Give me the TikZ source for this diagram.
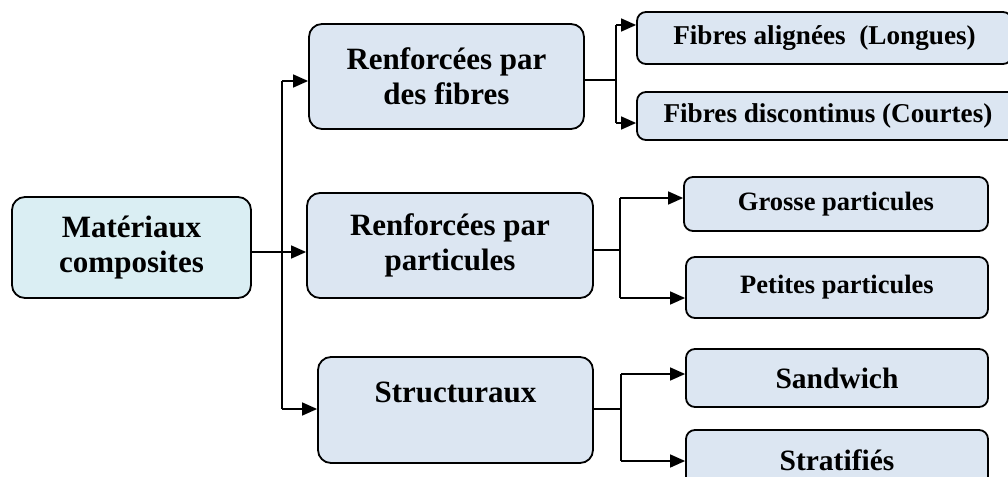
\documentclass[tikz,border=0pt]{standalone}
\usepackage{fontspec}
\setmainfont{Liberation Serif}
\usetikzlibrary{arrows.meta}
\definecolor{boxfill}{HTML}{DCE6F2}
\definecolor{rootfill}{HTML}{DAEEF3}
\tikzset{
  bigbox/.style={draw=black, line width=1.8pt, fill=boxfill, rounded corners=13pt,
    align=center, inner sep=0pt, font=\bfseries\fontsize{31}{35}\selectfont},
  smallbox/.style={draw=black, line width=1.8pt, fill=boxfill, rounded corners=9pt,
    inner sep=0pt, font=\bfseries\fontsize{26.5}{30}\selectfont},
  fibbox/.style={smallbox, font=\bfseries\fontsize{27.2}{30}\selectfont},
  midbox/.style={smallbox, font=\bfseries\fontsize{29.5}{33}\selectfont},
  label/.style={inner sep=0pt, align=center, font=\bfseries\fontsize{31}{35}\selectfont},
  link/.style={draw=black, line width=1.5pt},
  arrow/.style={link, -{Triangle[length=15pt,width=13pt]}}
}
\begin{document}
\begin{tikzpicture}[x=1pt, y=-1pt]
\useasboundingbox (0,0) rectangle (1008,476);
\clip (0,0) rectangle (1008,476);

% root
\node[bigbox, fill=rootfill, minimum width=239pt, minimum height=101pt] (root) at (131.5,247.5) {Matériaux\\composites};

% second level
\node[bigbox, minimum width=275pt, minimum height=105pt] (b1) at (446.5,76.5) {Renforcées par\\des fibres};
\node[bigbox, minimum width=286pt, minimum height=105pt] (b2) at (450,245.5) {Renforcées par\\particules};
\node[bigbox, minimum width=275pt, minimum height=106pt] (b3) at (455.5,410) {};
\node[label] (b3t) at (455.5,392) {Structuraux};

% third level
\node[fibbox, minimum width=375pt, minimum height=52pt] (f1) at (824.5,38) {Fibres alignées\ \ (Longues)};
\node[fibbox, minimum width=382pt, minimum height=48pt] (f2) at (828,116) {Fibres discontinus (Courtes)};
\node[smallbox, minimum width=304pt, minimum height=54pt] (p1) at (836,204) {Grosse particules};
\node[smallbox, minimum width=302pt, minimum height=61pt] (p2) at (837,287.5) {Petites particules};
\node[midbox, minimum width=302pt, minimum height=58pt] (s1) at (837,378) {Sandwich};
\node[midbox, minimum width=302pt, minimum height=60pt] (s2) at (837,460) {Stratifiés};

% junction points
\coordinate (j0) at (282,252);
\coordinate (t1) at (282,81);
\coordinate (t3) at (282,409);
\coordinate (k1) at (616,80);
\coordinate (k1a) at (616,25);
\coordinate (k1b) at (616,123);
\coordinate (k2) at (620,250);
\coordinate (k2a) at (620,198);
\coordinate (k2b) at (620,298);
\coordinate (k3) at (621,409);
\coordinate (k3a) at (621,374);
\coordinate (k3b) at (621,461);

% root to second level
\draw[link] (root.east |- j0) -- (j0);
\draw[link] (t1) -- (t3);
\draw[arrow] (j0) -- (b2.west |- j0);
\draw[arrow] (t1) -- (b1.west |- t1);
\draw[arrow] (t3) -- (b3.west |- t3);

% fibres
\draw[link] (b1.east |- k1) -- (k1);
\draw[link] (k1a) -- (k1b);
\draw[arrow] (k1a) -- (f1.west |- k1a);
\draw[arrow] (k1b) -- (f2.west |- k1b);

% particules
\draw[link] (b2.east |- k2) -- (k2);
\draw[link] (k2a) -- (k2b);
\draw[arrow] (k2a) -- (p1.west |- k2a);
\draw[arrow] (k2b) -- (p2.west |- k2b);

% structuraux
\draw[link] (b3.east |- k3) -- (k3);
\draw[link] (k3a) -- (k3b);
\draw[arrow] (k3a) -- (s1.west |- k3a);
\draw[arrow] (k3b) -- (s2.west |- k3b);
\end{tikzpicture}
\end{document}
